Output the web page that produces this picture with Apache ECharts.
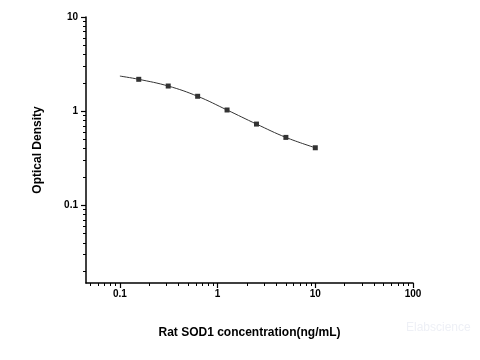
<!DOCTYPE html>
<html><head><meta charset="utf-8">
<script src="https://cdn.jsdelivr.net/npm/echarts@6/dist/echarts.min.js"></script>
<style>html,body{margin:0;padding:0;background:#fff}#c{width:480px;height:360px}</style>
</head><body><div id="c"></div>
<script>
const concentrations = [0.156, 0.3125, 0.625, 1.25, 2.5, 5, 10];
const densities = [2.18, 1.85, 1.44, 1.03, 0.73, 0.527, 0.409];
const curveX = [0.1, 0.156, 0.3125, 0.625, 1.25, 2.5, 5, 10];
const curveY = [2.36, 2.18, 1.85, 1.44, 1.03, 0.73, 0.527, 0.409];
const xMajorTicks = [0.1, 1, 10, 100];
const xMinorTicks = [0.05,0.06,0.07,0.08,0.09,0.2,0.3,0.4,0.5,0.6,0.7,0.8,0.9,2,3,4,5,6,7,8,9,20,30,40,50,60,70,80,90];
const yMajorTicks = [0.1, 1, 10];
const yMinorTicks = [0.02,0.03,0.04,0.05,0.06,0.07,0.08,0.09,0.2,0.3,0.4,0.5,0.6,0.7,0.8,0.9,2,3,4,5,6,7,8,9];

const font = 'Liberation Sans';
const chart = echarts.init(document.getElementById('c'));
const lbl = {fontFamily: font, fontWeight: 'bold', fontSize: 10, color: '#000'};
chart.setOption({
  animation: false,
  grid: {left: 86, right: 67, top: 17, bottom: 77},
  xAxis: [{
    type: 'log', min: 0.045, max: 100,
    name: 'Rat SOD1 concentration(ng/mL)', nameLocation: 'middle', nameGap: 44,
    nameTextStyle: {fontFamily: font, fontWeight: 'bold', fontSize: 12, color: '#000'},
    axisLine: {lineStyle: {color: '#000', width: 1.5}},
    axisTick: {customValues: xMajorTicks, length: 5, lineStyle: {color: '#000', width: 1.2}},
    axisLabel: Object.assign({customValues: xMajorTicks, margin: 6, formatter: v => String(v)}, lbl),
    splitLine: {show: false}
  }, {
    type: 'log', min: 0.045, max: 100, position: 'bottom',
    axisLine: {show: false},
    axisTick: {customValues: xMinorTicks, length: 3, lineStyle: {color: '#000', width: 1}},
    axisLabel: {show: false}, splitLine: {show: false}
  }],
  yAxis: [{
    type: 'log', min: 0.015, max: 10,
    name: 'Optical Density', nameLocation: 'middle', nameGap: 42,
    nameTextStyle: {fontFamily: font, fontWeight: 'bold', fontSize: 12, color: '#000'},
    axisLine: {lineStyle: {color: '#000', width: 1.5}},
    axisTick: {customValues: yMajorTicks, length: 5, lineStyle: {color: '#000', width: 1.2}},
    axisLabel: Object.assign({customValues: yMajorTicks, margin: 8, formatter: v => String(v)}, lbl),
    splitLine: {show: false}
  }, {
    type: 'log', min: 0.015, max: 10, position: 'left',
    axisLine: {show: false},
    axisTick: {customValues: yMinorTicks, length: 3, lineStyle: {color: '#000', width: 1}},
    axisLabel: {show: false}, splitLine: {show: false}
  }],
  series: [{
    type: 'line', xAxisIndex: 0, yAxisIndex: 0,
    data: curveX.map((x, i) => [x, curveY[i]]),
    smooth: 0.4, showSymbol: false, symbol: 'none',
    lineStyle: {color: '#333', width: 1}
  }, {
    type: 'scatter', xAxisIndex: 0, yAxisIndex: 0,
    data: concentrations.map((x, i) => [x, densities[i]]),
    symbol: 'rect', symbolSize: 5,
    itemStyle: {color: '#000'}
  }],
  graphic: [{
    type: 'text', left: 406, top: 322,
    style: {text: 'Elabscience', fontFamily: font, fontSize: 12, fill: '#eef0f6'}
  }]
});
</script></body></html>
